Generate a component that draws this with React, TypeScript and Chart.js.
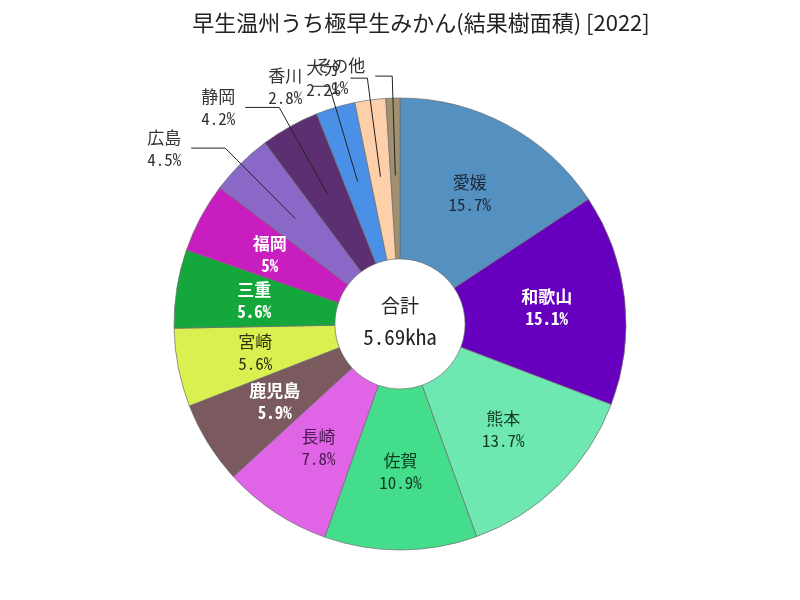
import React, { useEffect, useRef } from "react";
import { Chart, registerables } from "chart.js";

Chart.register(...registerables);

const titleText = "早生温州うち極早生みかん(結果樹面積) [2022]";
const categories = ["愛媛", "和歌山", "熊本", "佐賀", "長崎", "鹿児島", "宮崎", "三重", "福岡", "広島", "静岡", "香川", "大分", "その他"];
const shares = [15.7, 15.1, 13.7, 10.9, 7.8, 5.9, 5.6, 5.6, 5.0, 4.5, 4.2, 2.8, 2.2, 1.0];
const totalLabel = "5.69kha";
const centerTitle = "合計";

const colors = ["#5490c0", "#6600be", "#6ee8b0", "#44dd8c", "#e064e6", "#7a5a5e", "#daf050", "#14a83c", "#c81ec0", "#8a68c8", "#5c2f72", "#4a90e6", "#fdd0aa", "#a09070"];
const textColors = ["#1a2a3a", "#ffffff", "#123a28", "#0c3c22", "#4a184e", "#ffffff", "#303010", "#ffffff", "#ffffff", "#333", "#333", "#333", "#333", "#333"];

const LABEL_FONT = '17px "Noto Sans Mono CJK JP", "Noto Sans CJK JP", monospace';
const LABEL_FONT_BOLD = 'bold 17px "Noto Sans Mono CJK JP", "Noto Sans CJK JP", monospace';

function fmtPct(v: number): string {
  const s = v.toFixed(1);
  return (s.endsWith(".0") ? s.slice(0, -2) : s) + "%";
}

const labelPlugin = {
  id: "customLabels",
  afterDatasetsDraw(chart: any) {
    const ctx = chart.ctx as CanvasRenderingContext2D;
    const meta = chart.getDatasetMeta(0);
    ctx.save();
    meta.data.forEach((arc: any, i: number) => {
      const p = arc.getProps(["x", "y", "startAngle", "endAngle", "innerRadius", "outerRadius"], true);
      const mid = (p.startAngle + p.endAngle) / 2;
      const ringMid = (p.innerRadius + p.outerRadius) / 2;
      const name = categories[i];
      const pct = fmtPct(shares[i]);
      if (shares[i] >= 5) {
        const r = ringMid + 2;
        const cx = p.x + r * Math.cos(mid);
        const cy = p.y + r * Math.sin(mid);
        const white = textColors[i] === "#ffffff";
        ctx.font = white ? LABEL_FONT_BOLD : LABEL_FONT;
        ctx.fillStyle = textColors[i];
        ctx.textAlign = "center";
        ctx.textBaseline = "middle";
        ctx.fillText(name, cx, cy - 11);
        ctx.fillText(pct, cx, cy + 11);
      } else {
        const r0 = ringMid + 3;
        const r1 = p.outerRadius + 22;
        const x0 = p.x + r0 * Math.cos(mid);
        const y0 = p.y + r0 * Math.sin(mid);
        const x1 = p.x + r1 * Math.cos(mid);
        const y1 = p.y + r1 * Math.sin(mid);
        const leftSide = Math.cos(mid) < 0;
        const len = shares[i] >= 4 ? 34 : 17;
        const x2 = leftSide ? x1 - len : x1 + len;
        ctx.strokeStyle = "#222";
        ctx.lineWidth = 1;
        ctx.beginPath();
        ctx.moveTo(x0, y0);
        ctx.lineTo(x1, y1);
        ctx.lineTo(x2, y1);
        ctx.stroke();
        ctx.font = LABEL_FONT;
        const w = Math.max(ctx.measureText(name).width, ctx.measureText(pct).width);
        const tx = leftSide ? x2 - 10 - w / 2 : x2 + 10 + w / 2;
        ctx.fillStyle = "#333";
        ctx.textAlign = "center";
        ctx.textBaseline = "middle";
        ctx.fillText(name, tx, y1 - 11);
        ctx.fillText(pct, tx, y1 + 11);
      }
    });
    // center text
    const a0 = meta.data[0];
    ctx.fillStyle = "#222";
    ctx.textAlign = "center";
    ctx.textBaseline = "middle";
    ctx.font = '19px "Noto Sans Mono CJK JP", "Noto Sans CJK JP", monospace';
    ctx.fillText(centerTitle, a0.x, a0.y - 18);
    ctx.font = '21px "Noto Sans Mono CJK JP", "Noto Sans CJK JP", monospace';
    ctx.fillText(totalLabel, a0.x, a0.y + 13);
    // title
    ctx.font = '22px "Noto Sans CJK JP", sans-serif';
    ctx.fillStyle = "#222";
    ctx.fillText(titleText, 421, 23);
    ctx.restore();
  },
};

export default function App() {
  const ref = useRef<HTMLCanvasElement | null>(null);
  useEffect(() => {
    if (!ref.current) return;
    const chart = new Chart(ref.current, {
      type: "doughnut",
      data: {
        labels: categories,
        datasets: [
          {
            data: shares,
            backgroundColor: colors,
            borderColor: "rgba(110,110,110,0.7)",
            borderWidth: 1,
          },
        ],
      },
      options: {
        animation: false,
        responsive: false,
        devicePixelRatio: 1,
        cutout: "28.8%",
        layout: { padding: { top: 97.5, bottom: 49.5, left: 173.5, right: 173.5 } },
        plugins: {
          legend: { display: false },
          title: { display: false },
          tooltip: { enabled: false },
        },
      },
      plugins: [labelPlugin],
    });
    return () => chart.destroy();
  }, []);
  return (
    <div style={{ position: "absolute", left: 0, top: 0, width: 800, height: 600, background: "#fff" }}>
      <canvas ref={ref} width={800} height={600} />
    </div>
  );
}
